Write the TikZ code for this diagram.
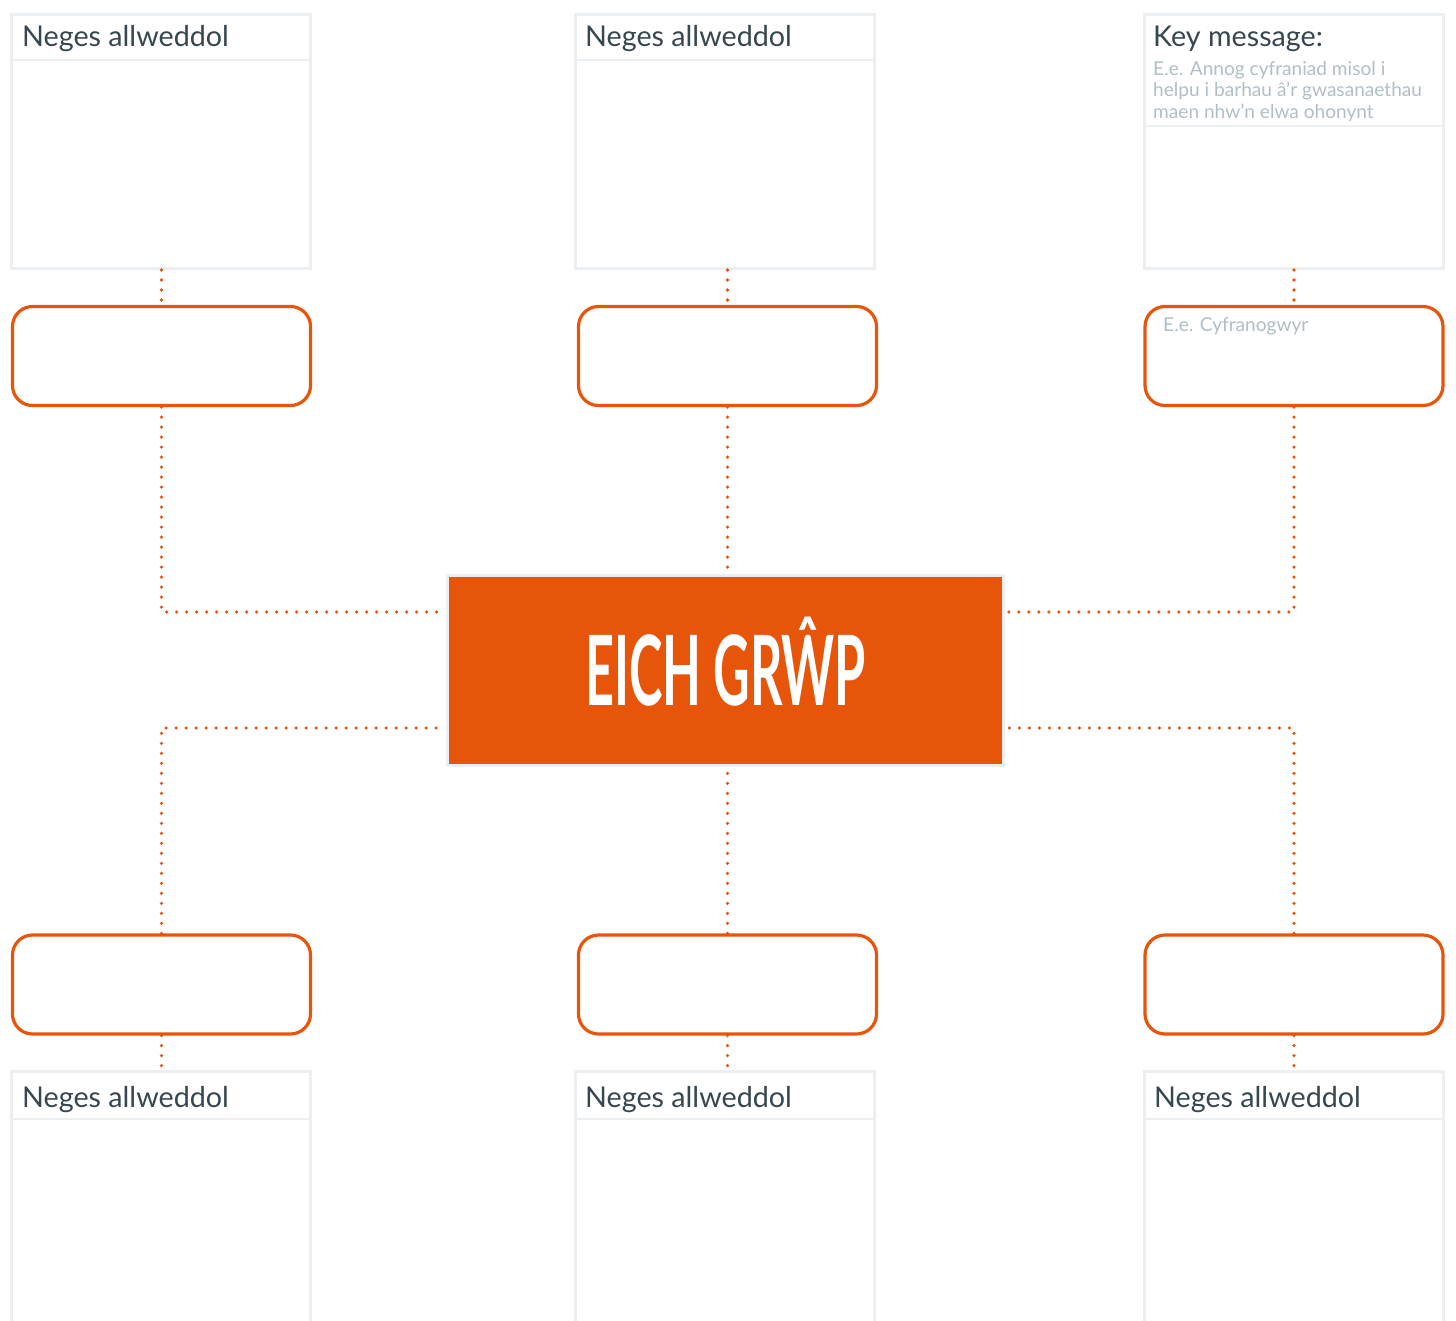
\documentclass[tikz,border=0pt]{standalone}
\usepackage{fontspec}
\setmainfont{Lato}
\usepackage{graphicx}
\usepackage{tikz}
\usetikzlibrary{positioning}

\definecolor{grporange}{HTML}{E6550A}
\definecolor{boxgrey}{HTML}{ECEFF1}
\definecolor{headtext}{HTML}{37474F}
\definecolor{hinttext}{HTML}{B0BEC5}

\begin{document}
\begin{tikzpicture}[
        x=1pt, y=-1pt,
        msgbox/.style={draw=boxgrey, line width=3pt, minimum width=299pt, minimum height=254pt, inner sep=0pt},
        tagbox/.style={draw=grporange, line width=3.2pt, rounded corners=20pt, fill=white, minimum width=298pt, minimum height=99pt, inner sep=0pt},
        divider/.style={boxgrey, line width=2pt},
        heading/.style={anchor=base west, inner sep=0pt, text=headtext, font=\fontsize{28.7}{34}\selectfont},
        hint/.style={anchor=base west, inner sep=0pt, text=hinttext, font=\fontsize{19.1}{21.5}\selectfont, align=left},
        link/.style={grporange, line width=3.6pt, line cap=round, dash pattern=on 0pt off 10pt}
    ]
    \useasboundingbox (0,0) rectangle (1456,1320);

    % Centre
    \node[draw=boxgrey, line width=3pt, fill=grporange, minimum width=556pt, minimum height=190pt,
          text=white, text height=70pt, text depth=0pt, font=\fontsize{97}{100}\selectfont\bfseries] (grp) at (725.5,670.5) {\scalebox{0.52}[1]{EICH GRŴP}};

    % Top row
    \node[msgbox] (msgA) at (161,141.5) {};
    \node[msgbox] (msgB) at (725,141.5) {};
    \node[msgbox] (msgC) at (1294,141.5) {};
    \draw[divider] (msgA.west |- 0,60) -- (msgA.east |- 0,60);
    \draw[divider] (msgB.west |- 0,60) -- (msgB.east |- 0,60);
    \draw[divider] (msgC.west |- 0,126) -- (msgC.east |- 0,126);
    \node[heading] (headA) at (22,46) {Neges allweddol};
    \node[heading] (headB) at (585,46) {Neges allweddol};
    \node[heading] (headC) at (1153,46) {Key message:};
    \node[hint, anchor=north west] (hintC) at (1153,61) {E.e. Annog cyfraniad misol i\\helpu i barhau â’r gwasanaethau\\maen nhw’n elwa ohonynt};

    \node[tagbox] (tagA) at (161.5,356) {};
    \node[tagbox] (tagB) at (727.5,356) {};
    \node[tagbox] (tagC) at (1294,356) {};
    \node[hint] (hintF) at (1163,331) {E.e. Cyfranogwyr};

    % Bottom row
    \node[tagbox] (tagD) at (161.5,984.5) {};
    \node[tagbox] (tagE) at (727.5,984.5) {};
    \node[tagbox] (tagF) at (1294,984.5) {};

    \node[msgbox, minimum height=400pt] (msgD) at (161,1271.5) {};
    \node[msgbox, minimum height=400pt] (msgE) at (725,1271.5) {};
    \node[msgbox, minimum height=400pt] (msgF) at (1294,1271.5) {};
    \draw[divider] (msgD.west |- 0,1119) -- (msgD.east |- 0,1119);
    \draw[divider] (msgE.west |- 0,1119) -- (msgE.east |- 0,1119);
    \draw[divider] (msgF.west |- 0,1119) -- (msgF.east |- 0,1119);
    \node[heading] (headD) at (22,1107) {Neges allweddol};
    \node[heading] (headE) at (585,1107) {Neges allweddol};
    \node[heading] (headF) at (1154,1107) {Neges allweddol};

    % Links
    \coordinate (gwA) at ([xshift=-3pt, yshift=58.5pt]grp.west);
    \coordinate (geA) at ([xshift=3pt, yshift=58.5pt]grp.east);
    \coordinate (gwB) at ([xshift=-3pt, yshift=-57.5pt]grp.west);
    \coordinate (geB) at ([xshift=3pt, yshift=-57.5pt]grp.east);

    \draw[link] (msgA.south -| tagA.north) -- (tagA.north);
    \draw[link] (msgB.south -| tagB.north) -- (tagB.north);
    \draw[link] (msgC.south -| tagC.north) -- (tagC.north);
    \draw[link] (tagA.south) |- (gwA);
    \draw[link] (tagB.south) -- (tagB.south |- grp.north);
    \draw[link] (tagC.south) |- (geA);

    \draw[link] (tagD.north) |- (gwB);
    \draw[link] (tagE.north) -- (tagE.north |- grp.south);
    \draw[link] (tagF.north) |- (geB);
    \draw[link] (tagD.south) -- (tagD.south |- msgD.north);
    \draw[link] (tagE.south) -- (tagE.south |- msgE.north);
    \draw[link] (tagF.south) -- (tagF.south |- msgF.north);

\end{tikzpicture}
\end{document}
